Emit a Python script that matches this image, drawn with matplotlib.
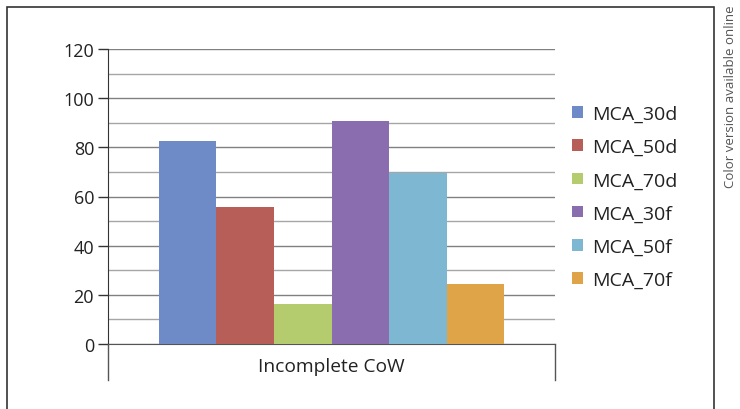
import matplotlib
matplotlib.use('Agg')
from matplotlib import pyplot as plt
from matplotlib.patches import Rectangle
import numpy as np

plt.rcParams['font.family'] = ['Open Sans', 'DejaVu Sans']

category = 'Incomplete CoW'
series = ['MCA_30d', 'MCA_50d', 'MCA_70d', 'MCA_30f', 'MCA_50f', 'MCA_70f']
values = [82.6, 55.7, 16.3, 90.7, 69.6, 24.4]
colors = ['#6e8bc7', '#b85e59', '#b5cc6e', '#8a6daf', '#7db7d1', '#dfa348']

W, H = 740, 410
fig = plt.figure(figsize=(W / 100, H / 100), dpi=100)

# outer frame
fig.patches.append(Rectangle((7 / W, -0.1), 707 / W, 1.1 - 8 / H, transform=fig.transFigure,
                             fill=False, edgecolor='#333333', linewidth=1.2))

ax = fig.add_axes([108 / W, 65 / H, 447 / W, 295 / H])

n = len(series)
bw = 0.774 / n
start = -0.774 / 2
for i, (name, v, c) in enumerate(zip(series, values, colors)):
    ax.bar(start + bw * (i + 0.5), v, width=bw, color=c, label=name, zorder=3)

ax.set_xlim(-0.5, 0.5)
ax.set_ylim(0, 120)
ax.set_yticks(np.arange(0, 121, 20))
ax.set_yticks(np.arange(10, 120, 20), minor=True)
ax.grid(axis='y', which='major', color='#808080', linewidth=1.0, zorder=0)
ax.grid(axis='y', which='minor', color='#a6a6a6', linewidth=1.0, zorder=0)
ax.tick_params(axis='y', which='major', length=7, width=1, color='#333333',
               labelsize=13, labelcolor='#222222', pad=3)
ax.tick_params(axis='y', which='minor', length=0)
ax.set_xticks([])

for s in ['top', 'right']:
    ax.spines[s].set_visible(False)
ax.spines['left'].set_color('#333333')
ax.spines['bottom'].set_color('#555555')

# category divider marks below the axis
for xx in [0, 1]:
    ax.plot([xx, xx], [0, -0.122], transform=ax.transAxes, color='#555555',
            linewidth=1, clip_on=False)
ax.text(0.5, -0.075, category, transform=ax.transAxes, ha='center', va='center',
        fontsize=13.8, color='#222222')

fig.legend(loc='upper left', bbox_to_anchor=(572 / W, 1 - 106 / H), frameon=False,
           borderpad=0, borderaxespad=0,
           fontsize=14, handlelength=0.55, handleheight=0.55, handletextpad=0.5,
           labelspacing=0.78, labelcolor='#222222')

fig.text(731 / W, 222 / H, 'Color version available online', rotation=90,
         ha='center', va='bottom', fontsize=9.5, color='#555555')

fig.savefig('out.png', dpi=100)
